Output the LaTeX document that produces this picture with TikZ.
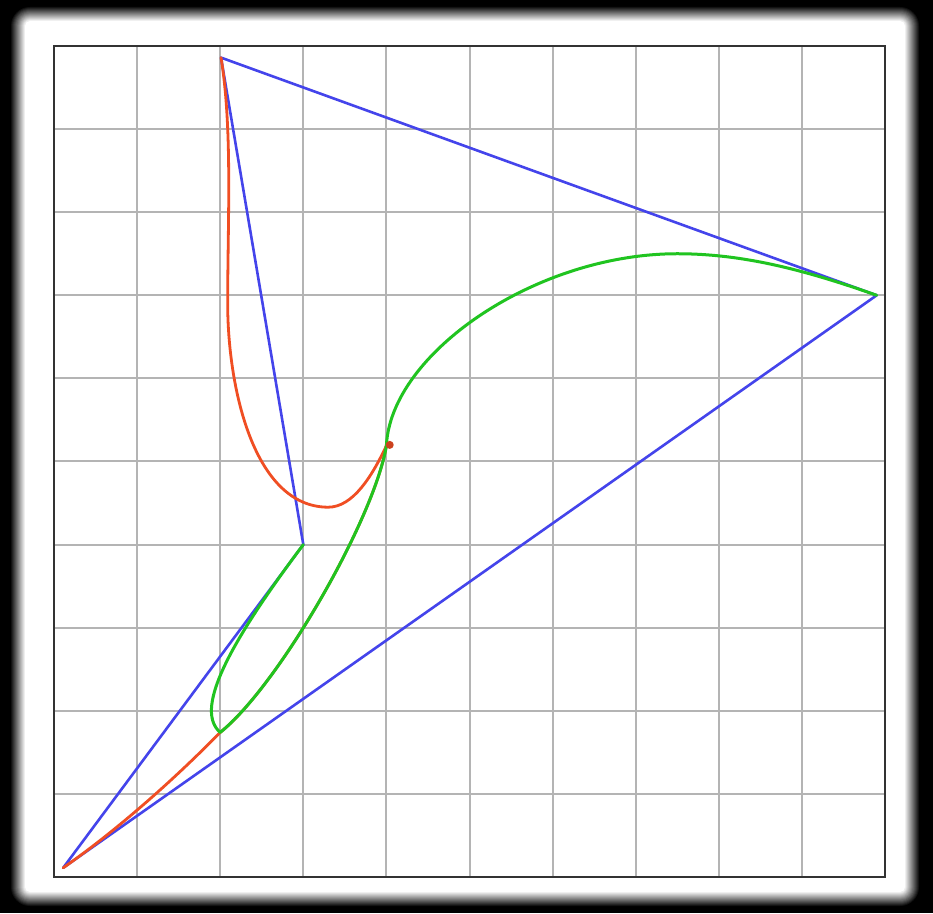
\documentclass[tikz,border=0pt]{standalone}
\usepackage{tikz}
\definecolor{plotblue}{RGB}{68,68,235}
\definecolor{plotred}{RGB}{240,78,35}
\definecolor{plotgreen}{RGB}{32,196,32}
\definecolor{gridgray}{RGB}{180,180,180}
\tikzset{
  gridline/.style={gridgray, line width=2pt},
  plotframe/.style={black!80, line width=2.2pt},
  blueline/.style={plotblue, line width=2.6pt, line join=round, line cap=round},
  redline/.style={plotred, line width=2.8pt, line join=round, line cap=round},
  greenline/.style={plotgreen, line width=3pt, line join=round, line cap=round}
}
\begin{document}
\begin{tikzpicture}[x=1pt,y=1pt]
\useasboundingbox (0,0) rectangle (933,913);
% dark blurred outer frame
\fill[black] (0,0) rectangle (933,913);
\foreach \k in {0,...,15}{
  \pgfmathsetmacro\p{\k*100/15}
  \pgfmathsetmacro\r{20-\k}
  \fill[white!\p!black, rounded corners=\r pt] (10+\k,6+\k) rectangle (920-\k,907-\k);
}
\begin{scope}[shift={(54,36)}, x=83.1pt, y=83.1pt]
  \foreach \i in {1,...,9}{
    \draw[gridline] (\i,0) -- (\i,10);
    \draw[gridline] (0,\i) -- (10,\i);
  }
  \draw[plotframe] (0,0) rectangle (10,10);
  \coordinate (A) at (0.11,0.11);
  \coordinate (B) at (3.0,4.0);
  \coordinate (C) at (2.01,9.86);
  \coordinate (D) at (9.9,7.0);
  \coordinate (K) at (4.0,5.19);
  \coordinate (L) at (2.0,1.74);
  \coordinate (T) at (7.5,7.5);
  \coordinate (M) at (3.3,4.45);
  \coordinate (P) at (2.09,6.9);
  % control polygon
  \draw[blueline] (C) -- (D) -- (A) -- (B) -- cycle;
  % red curve
  \draw[redline] (A) .. controls (0.81,0.60) and (1.5,1.23) .. (L)
                     .. controls (2.7,2.3) and (3.85,4.3) .. (K);
  \draw[redline] (K) .. controls (3.83,4.83) and (3.6,4.45) .. (M)
                     .. controls (2.4,4.45) and (2.09,5.9) .. (P)
                     .. controls (2.09,7.9) and (2.15,9.0) .. (C);
  % green curve
  \draw[greenline] (D) .. controls (9.05,7.30) and (8.3,7.5) .. (T)
                       .. controls (5.8,7.5) and (4.05,6.3) .. (K)
                       .. controls (3.85,4.3) and (2.7,2.3) .. (L)
                       .. controls (1.7,2.0) and (2.04,2.72) .. (B);
  \fill[plotred!85!black] (4.04,5.2) circle (4pt);
\end{scope}
\end{tikzpicture}
\end{document}
